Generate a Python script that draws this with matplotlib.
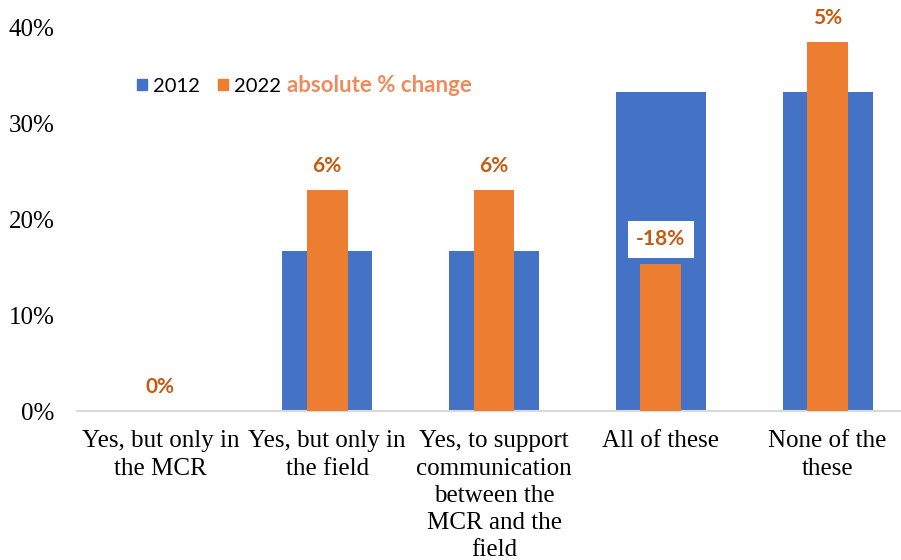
import numpy as np
import matplotlib.pyplot as plt
from matplotlib.patches import Patch

categories = ["Yes, but only in\nthe MCR", "Yes, but only in\nthe field",
              "Yes, to support\ncommunication\nbetween the\nMCR and the\nfield",
              "All of these", "None of the\nthese"]
v2012 = [0.0, 16.7, 16.7, 33.3, 33.3]
v2022 = [0.0, 23.1, 23.1, 15.4, 38.5]
changes = ["0%", "6%", "6%", "-18%", "5%"]

blue = "#4472C4"
orange = "#ED7D31"
lab_col = "#C55A11"

fig = plt.figure(figsize=(9.01, 5.6), dpi=100)
ax = fig.add_axes([77/901, (560-411)/560, 1-77/901, 383/560])

x = np.arange(len(categories))
ax.bar(x, v2012, width=0.54, color=blue, zorder=2)
ax.bar(x, v2022, width=0.245, color=orange, zorder=3)

for i in range(len(x)):
    box = None
    if i == 3:
        box = dict(boxstyle="square,pad=0.4", fc="white", ec="none")
    ax.annotate(changes[i], (x[i], v2022[i]), xytext=(0, 17.5), textcoords="offset points",
                ha="center", va="center", color=lab_col, fontsize=15,
                fontweight="bold", family="Lato", bbox=box, zorder=5)

ax.set_ylim(0, 40)
ax.set_xlim(-0.5, 4.44)
ax.set_yticks([0, 10, 20, 30, 40])
ax.set_yticklabels(["0%", "10%", "20%", "30%", "40%"], family="Liberation Serif", fontsize=18)
ax.set_xticks(x)
ax.set_xticklabels(categories, family="Liberation Serif", fontsize=18, linespacing=1.3)
ax.tick_params(axis="both", length=0)
ax.tick_params(axis="x", pad=14)
ax.tick_params(axis="y", pad=16)
for s in ["top", "right", "left"]:
    ax.spines[s].set_visible(False)
ax.spines["bottom"].set_color("#D9D9D9")
ax.spines["bottom"].set_linewidth(1.5)

handles = [Patch(color=blue, label="2012"), Patch(color=orange, label="2022")]
fig.legend(handles=handles, loc="center left", bbox_to_anchor=(137/901, (560-86)/560),
           ncol=2, frameon=False, prop={"family": "Lato", "size": 14.5}, borderpad=0,
           borderaxespad=0, handlelength=0.5, handleheight=0.5, handletextpad=0.3,
           columnspacing=0.9)
fig.text(287/901, (560-86)/560, "absolute % change", color="#F08A5A", fontsize=16,
         fontweight="bold", family="Lato", va="center", ha="left")

fig.savefig("out.png", dpi=100)
